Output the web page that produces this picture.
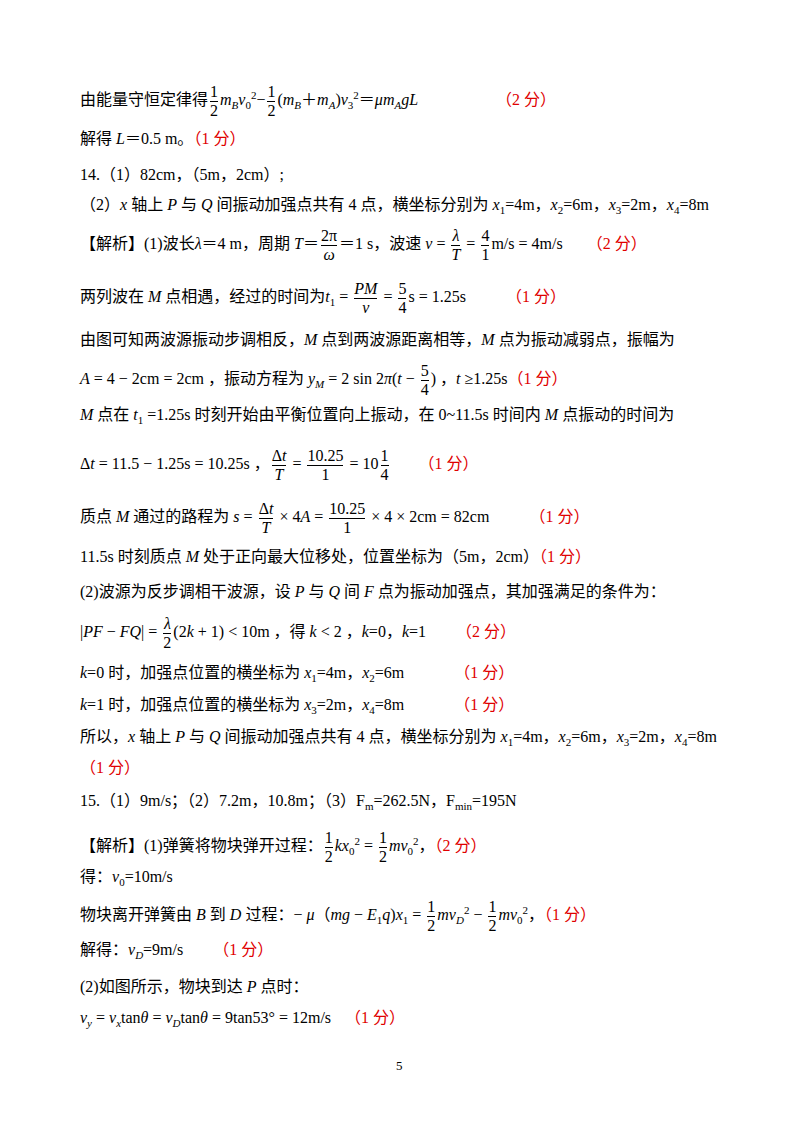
<!DOCTYPE html>
<html><head><meta charset="utf-8">
<script src="https://cdn.jsdelivr.net/npm/chart.js@4.4.0/dist/chart.umd.min.js"></script>
<style>
body{margin:0;background:#fff;width:800px;height:1132px;position:relative;overflow:hidden;
font-family:"Liberation Serif","Noto Sans CJK SC",serif;font-size:16px;color:#000}
.l{position:absolute;left:80px;white-space:nowrap;line-height:20px}
.r{color:#e00000}
i{font-style:italic}
.fr{display:inline-flex;flex-direction:column;vertical-align:middle;text-align:center;margin:0 2px;line-height:18px}
.fr>span:last-child{border-top:1px solid #000}
sub,sup{font-size:11px}
</style></head><body>
<div class="l" style="top:83px">由能量守恒定律得<span class="fr"><span>1</span><span>2</span></span><i>m<sub>B</sub>v</i><sub>0</sub><sup>2</sup>−<span class="fr"><span>1</span><span>2</span></span>(<i>m<sub>B</sub></i>＋<i>m<sub>A</sub></i>)<i>v</i><sub>3</sub><sup>2</sup>＝<i>μm<sub>A</sub>gL</i><span class="r" style="margin-left:78px">（2 分）</span></div>
<div class="l" style="top:129px">解得 <i>L</i>＝0.5 m。<span class="r">（1 分）</span></div>
<div class="l" style="top:165px">14.（1）82cm，（5m，2cm）;</div>
<div class="l" style="top:195px">（2）<i>x</i> 轴上 <i>P</i> 与 <i>Q</i> 间振动加强点共有 4 点，横坐标分别为 <i>x</i><sub>1</sub>=4m，<i>x</i><sub>2</sub>=6m，<i>x</i><sub>3</sub>=2m，<i>x</i><sub>4</sub>=8m</div>
<div class="l" style="top:227px">【解析】(1)波长<i>λ</i>＝4 m，周期 <i>T</i>＝<span class="fr"><span>2π</span><span><i>ω</i></span></span>＝1 s，波速 <i>v</i> = <span class="fr"><span><i>λ</i></span><span><i>T</i></span></span> = <span class="fr"><span>4</span><span>1</span></span>m/s = 4m/s<span class="r" style="margin-left:24px">（2 分）</span></div>
<div class="l" style="top:280px">两列波在 <i>M</i> 点相遇，经过的时间为<i>t</i><sub>1</sub> = <span class="fr"><span><i>PM</i></span><span><i>v</i></span></span> = <span class="fr"><span>5</span><span>4</span></span>s = 1.25s<span class="r" style="margin-left:40px">（1 分）</span></div>
<div class="l" style="top:330px">由图可知两波源振动步调相反，<i>M</i> 点到两波源距离相等，<i>M</i> 点为振动减弱点，振幅为</div>
<div class="l" style="top:362px"><i>A</i> = 4 − 2cm = 2cm ，振动方程为 <i>y<sub>M</sub></i> = 2 sin 2<i>π</i>(<i>t</i> − <span class="fr"><span>5</span><span>4</span></span>) ，<i>t</i> ≥1.25s<span class="r">（1 分）</span></div>
<div class="l" style="top:405px"><i>M</i> 点在 <i>t</i><sub>1</sub> =1.25s 时刻开始由平衡位置向上振动，在 0~11.5s 时间内 <i>M</i> 点振动的时间为</div>
<div class="l" style="top:447px">Δ<i>t</i> = 11.5 − 1.25s = 10.25s ，<span class="fr"><span>Δ<i>t</i></span><span><i>T</i></span></span> = <span class="fr"><span>10.25</span><span>1</span></span> = 10<span class="fr"><span>1</span><span>4</span></span><span class="r" style="margin-left:28px">（1 分）</span></div>
<div class="l" style="top:500px">质点 <i>M</i> 通过的路程为 <i>s</i> = <span class="fr"><span>Δ<i>t</i></span><span><i>T</i></span></span> × 4<i>A</i> = <span class="fr"><span>10.25</span><span>1</span></span> × 4 × 2cm = 82cm<span class="r" style="margin-left:40px">（1 分）</span></div>
<div class="l" style="top:547px">11.5s 时刻质点 <i>M</i> 处于正向最大位移处，位置坐标为（5m，2cm）<span class="r">（1 分）</span></div>
<div class="l" style="top:582px">(2)波源为反步调相干波源，设 <i>P</i> 与 <i>Q</i> 间 <i>F</i> 点为振动加强点，其加强满足的条件为：</div>
<div class="l" style="top:615px">|<i>PF</i> − <i>FQ</i>| = <span class="fr"><span><i>λ</i></span><span>2</span></span>(2<i>k</i> + 1) &lt; 10m ，得 <i>k</i> &lt; 2 ，<i>k</i>=0，<i>k</i>=1<span class="r" style="margin-left:30px">（2 分）</span></div>
<div class="l" style="top:663px"><i>k</i>=0 时，加强点位置的横坐标为 <i>x</i><sub>1</sub>=4m，<i>x</i><sub>2</sub>=6m<span class="r" style="margin-left:50px">（1 分）</span></div>
<div class="l" style="top:695px"><i>k</i>=1 时，加强点位置的横坐标为 <i>x</i><sub>3</sub>=2m，<i>x</i><sub>4</sub>=8m<span class="r" style="margin-left:50px">（1 分）</span></div>
<div class="l" style="top:727px">所以，<i>x</i> 轴上 <i>P</i> 与 <i>Q</i> 间振动加强点共有 4 点，横坐标分别为 <i>x</i><sub>1</sub>=4m，<i>x</i><sub>2</sub>=6m，<i>x</i><sub>3</sub>=2m，<i>x</i><sub>4</sub>=8m</div>
<div class="l r" style="top:758px">（1 分）</div>
<div class="l" style="top:791px">15.（1）9m/s；（2）7.2m，10.8m；（3）F<sub>m</sub>=262.5N，F<sub>min</sub>=195N</div>
<div class="l" style="top:829px">【解析】(1)弹簧将物块弹开过程：<span class="fr"><span>1</span><span>2</span></span><i>kx</i><sub>0</sub><sup>2</sup> = <span class="fr"><span>1</span><span>2</span></span><i>mv</i><sub>0</sub><sup>2</sup>，<span class="r">（2 分）</span></div>
<div class="l" style="top:867px">得：<i>v</i><sub>0</sub>=10m/s</div>
<div class="l" style="top:898px">物块离开弹簧由 <i>B</i> 到 <i>D</i> 过程：− <i>μ</i>（<i>mg</i> − <i>E</i><sub>1</sub><i>q</i>)<i>x</i><sub>1</sub> = <span class="fr"><span>1</span><span>2</span></span><i>mv<sub>D</sub></i><sup>2</sup> − <span class="fr"><span>1</span><span>2</span></span><i>mv</i><sub>0</sub><sup>2</sup>，<span class="r">（1 分）</span></div>
<div class="l" style="top:940px">解得：<i>v<sub>D</sub></i>=9m/s<span class="r" style="margin-left:30px">（1 分）</span></div>
<div class="l" style="top:977px">(2)如图所示，物块到达 <i>P</i> 点时：</div>
<div class="l" style="top:1008px"><i>v<sub>y</sub></i> = <i>v<sub>x</sub></i>tan<i>θ</i> = <i>v<sub>D</sub></i>tan<i>θ</i> = 9tan53° = 12m/s<span class="r" style="margin-left:14px">（1 分）</span></div>
<div class="l" style="top:1056px;left:396px;font-size:13px">5</div>
</body></html>
